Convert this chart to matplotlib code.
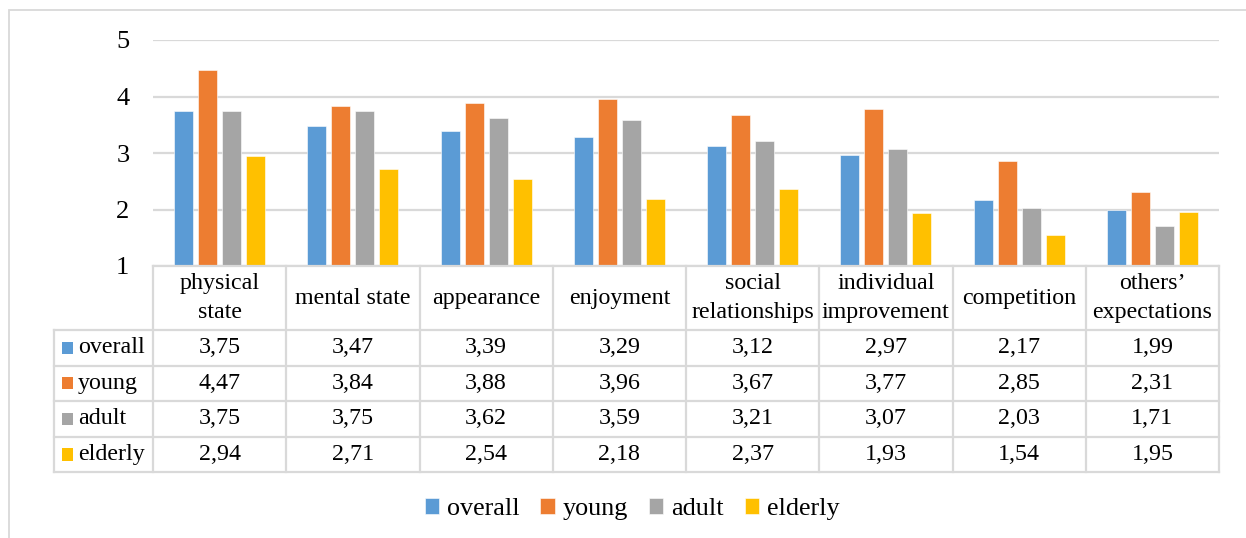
import numpy as np
import matplotlib
matplotlib.use('Agg')
from matplotlib import pyplot as plt
from matplotlib.patches import Rectangle

plt.rcParams['font.family'] = ['Liberation Serif', 'DejaVu Serif']

categories = ['physical\nstate', 'mental state', 'appearance', 'enjoyment',
              'social\nrelationships', 'individual\nimprovement', 'competition',
              'others\u2019\nexpectations']
series = ['overall', 'young', 'adult', 'elderly']
overall = [3.75, 3.47, 3.39, 3.29, 3.12, 2.97, 2.17, 1.99]
young = [4.47, 3.84, 3.88, 3.96, 3.67, 3.77, 2.85, 2.31]
adult = [3.75, 3.75, 3.62, 3.59, 3.21, 3.07, 2.03, 1.71]
elderly = [2.94, 2.71, 2.54, 2.18, 2.37, 1.93, 1.54, 1.95]
colors = ['#5B9BD5', '#ED7D31', '#A5A5A5', '#FFC000']
yticks = [1, 2, 3, 4, 5]

values = [overall, young, adult, elderly]
grid_c = '#D9D9D9'
W, H = 1246, 538

fig = plt.figure(figsize=(W / 100, H / 100), dpi=100)

# outer chart frame (runs off the right/bottom edge like the source)
fig.patches.append(Rectangle((9 / W, -0.2), 1.2, 1.2 - 10 / H,
                             transform=fig.transFigure, fill=False,
                             edgecolor=grid_c, lw=1.3))

# bar area
ax = fig.add_axes([153 / W, 272 / H, 1066 / W, 226 / H])
x = np.arange(len(categories))
step, bw = 0.18, 0.143
for i, (name, vals) in enumerate(zip(series, values)):
    ax.bar(x + (i - 1.5) * step, np.array(vals) - 1, bw, bottom=1,
           color=colors[i], edgecolor='white', linewidth=0.4, zorder=3, label=name)
ax.set_xlim(-0.5, len(categories) - 0.5)
ax.set_ylim(1, 5)
ax.set_yticks(yticks)
ax.set_yticklabels([str(t) for t in yticks], fontsize=19)
ax.tick_params(axis='y', length=0, pad=17)
ax.set_xticks([])
ax.grid(axis='y', color=grid_c, lw=1.6, zorder=0)
for s in ax.spines.values():
    s.set_visible(False)

# data table under the bars
lab_w = 99 / 133.25
head_h = 1.8
tax = fig.add_axes([54 / W, 65.7 / H, 1165 / W, 206.3 / H])
tax.set_xlim(-0.5 - lab_w, len(categories) - 0.5)
tax.set_ylim(0, 4 + head_h)
tax.axis('off')
lk = dict(color=grid_c, lw=1.6, clip_on=False)
top = 4 + head_h
tax.plot([-0.5, len(categories) - 0.5], [top, top], **lk)
for r in range(5):
    tax.plot([-0.5 - lab_w, len(categories) - 0.5], [r, r], **lk)
tax.plot([-0.5 - lab_w] * 2, [0, 4], **lk)
for c in range(len(categories) + 1):
    tax.plot([c - 0.5] * 2, [0, top], **lk)

fs = 17.3
for c, cat in enumerate(categories):
    tax.text(c, 4 + head_h / 2, cat, ha='center', va='center', fontsize=fs,
             linespacing=1.55)
    for r, vals in enumerate(values):
        tax.text(c, 3.5 - r, f'{vals[c]:.2f}'.replace('.', ','), ha='center',
                 va='center', fontsize=fs)
for r, name in enumerate(series):
    tax.add_patch(Rectangle((-0.5 - lab_w + 0.06, 3.5 - r - 0.17), 0.085, 0.34,
                            color=colors[r], lw=0))
    tax.text(-0.5 - lab_w + 0.18, 3.5 - r, name, ha='left', va='center', fontsize=fs)

handles, labels = ax.get_legend_handles_labels()
fig.legend(handles, labels, loc='center', bbox_to_anchor=(632 / W, 1 - 509 / H),
           ncol=4, frameon=False, fontsize=18.8, handlelength=0.55, handleheight=0.55,
           handletextpad=0.3, columnspacing=0.8)

fig.savefig('out.png', dpi=100)
